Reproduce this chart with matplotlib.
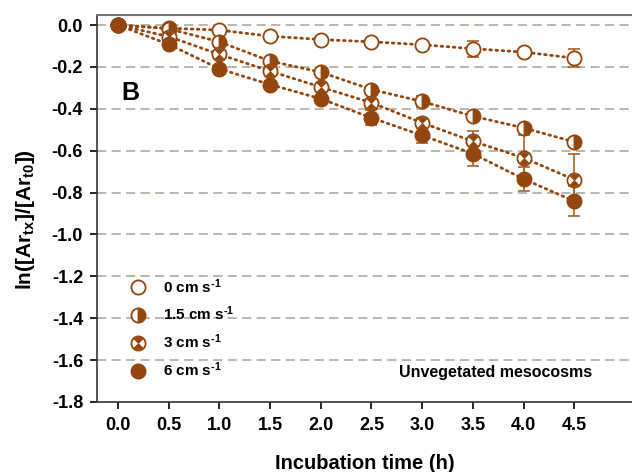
import numpy as np
import matplotlib
matplotlib.use("Agg")
import matplotlib.pyplot as plt
from matplotlib.path import Path
from matplotlib.legend_handler import HandlerTuple

plt.rcParams['font.family'] = ['Liberation Sans', 'DejaVu Sans']
plt.rcParams['font.weight'] = 'bold'
plt.rcParams['mathtext.fontset'] = 'custom'
plt.rcParams['mathtext.bf'] = 'Liberation Sans:bold'
plt.rcParams['mathtext.rm'] = 'Liberation Sans:bold'
plt.rcParams['mathtext.default'] = 'bf'

# ---- data ----
time_h = [0.0, 0.5, 1.0, 1.5, 2.0, 2.5, 3.0, 3.5, 4.0, 4.5]
series_labels = [r"0 cm s$^{\text{-}1}$", r"1.5 cm s$^{\text{-}1}$",
                 r"3 cm s$^{\text{-}1}$", r"6 cm s$^{\text{-}1}$"]
v0 = [0.0, -0.015, -0.024, -0.053, -0.069, -0.080, -0.094, -0.113, -0.129, -0.158]
e0 = [0.0, 0.005, 0.005, 0.005, 0.006, 0.006, 0.008, 0.038, 0.010, 0.044]
v15 = [0.0, -0.018, -0.080, -0.172, -0.225, -0.308, -0.365, -0.435, -0.491, -0.558]
e15 = [0.0, 0.010, 0.012, 0.012, 0.012, 0.015, 0.028, 0.020, 0.015, 0.012]
v3 = [0.0, -0.055, -0.140, -0.220, -0.296, -0.371, -0.467, -0.555, -0.634, -0.738]
e3 = [0.0, 0.010, 0.012, 0.012, 0.015, 0.020, 0.025, 0.050, 0.107, 0.120]
v6 = [0.0, -0.092, -0.209, -0.284, -0.352, -0.443, -0.527, -0.614, -0.735, -0.841]
e6 = [0.0, 0.012, 0.015, 0.015, 0.018, 0.035, 0.035, 0.060, 0.059, 0.072]

yticks = [0.0, -0.2, -0.4, -0.6, -0.8, -1.0, -1.2, -1.4, -1.6, -1.8]
xticks = [0.0, 0.5, 1.0, 1.5, 2.0, 2.5, 3.0, 3.5, 4.0, 4.5]

brown = '#93470e'
ebrown = '#a8622a'

# hourglass marker (top & bottom wedges of a circle)
def wedge(a0, a1, n=20):
    ang = np.radians(np.linspace(a0, a1, n))
    verts = [(0, 0)] + [(np.cos(a), np.sin(a)) for a in ang] + [(0, 0)]
    codes = [Path.MOVETO] + [Path.LINETO] * n + [Path.CLOSEPOLY]
    return verts, codes
v1, c1 = wedge(45, 135)
v2, c2 = wedge(225, 315)
hourglass = Path(v1 + v2, c1 + c2)

fig = plt.figure(figsize=(6.32, 4.72), dpi=100)
ax = fig.add_axes([97/632, 70/472, 1 - 97/632, (402 - 15)/472])

ms = 10.2
line_kw = dict(color=brown, lw=2.0, linestyle=(0, (0.6, 1.6)), dash_capstyle='round')
eb_kw = dict(fmt='none', ecolor=ebrown, elinewidth=1.2, capsize=4, capthick=1.2, zorder=3)

ax.errorbar(time_h, v0, yerr=e0, **eb_kw)
ax.errorbar(time_h, v15, yerr=e15, **eb_kw)
ax.errorbar(time_h, v3, yerr=e3, **eb_kw)
ax.errorbar(time_h, v6, yerr=e6, **eb_kw)

ax.plot(time_h, v0, zorder=2, **line_kw)
ax.plot(time_h, v15, zorder=2, **line_kw)
ax.plot(time_h, v3, zorder=2, **line_kw)
ax.plot(time_h, v6, zorder=2, **line_kw)

mk_open = dict(marker='o', ms=ms, mfc='white', mec=brown, mew=1.3, ls='none')
h0, = ax.plot(time_h, v0, zorder=4, **mk_open)
h15, = ax.plot(time_h, v15, marker='o', ms=ms, fillstyle='right', mfc=brown,
               mfcalt='white', mec=brown, mew=1.3, ls='none', zorder=5)
h3a, = ax.plot(time_h, v3, zorder=6, **mk_open)
h3b, = ax.plot(time_h, v3, marker=hourglass, ms=ms - 1.5, mfc=brown, mec=brown,
               mew=0.5, ls='none', zorder=6)
h6, = ax.plot(time_h, v6, marker='o', ms=ms, mfc=brown, mec=brown, mew=1.3,
              ls='none', zorder=7)

ax.set_xlim(-0.207, 5.07)
ax.set_ylim(-1.8, 0.048)
ax.set_xticks(xticks)
ax.set_xticklabels([f"{t:.1f}" for t in xticks])
ax.set_yticks(yticks)
ax.set_yticklabels([f"{t:.1f}" for t in yticks])
ax.tick_params(axis='both', labelsize=13, direction='out', length=5, width=1.2)
ax.tick_params(axis='x', pad=6)
ax.tick_params(axis='y', pad=5)
for lab in ax.get_xticklabels() + ax.get_yticklabels():
    lab.set_fontweight('bold')

for y in yticks[:-1]:
    ax.axhline(y, color='#aaa395', lw=1.1, ls=(0, (6, 3.5)), zorder=1)

ax.spines['right'].set_visible(False)
for s in ['left', 'bottom', 'top']:
    ax.spines[s].set_linewidth(1.2)
    ax.spines[s].set_color('#333333')
ax.spines['top'].set_color('#777777')
ax.spines['top'].set_linewidth(1.5)

ax.set_xlabel("Incubation time (h)", fontsize=14.5, fontweight='bold', labelpad=14)
ax.set_ylabel(r"ln([Ar$_{tx}$]/[Ar$_{t0}$])", fontsize=15, fontweight='bold')
ax.yaxis.set_label_coords((37 - 97) / 535, 1 - (220 - 15) / 387)

ax.text(0.03, -0.325, "B", fontsize=18, fontweight='bold', ha='left', va='center')
ax.text(4.68, -1.66, "Unvegetated mesocosms", fontsize=11.5, fontweight='bold',
        ha='right', va='center')

handles = [h0, h15, (h3a, h3b), h6]
leg = ax.legend(handles, series_labels, loc='upper left',
                bbox_to_anchor=((123 - 97)/535, 1 - (271 - 15) / 387),
                frameon=False, fontsize=11, handlelength=1.2, handletextpad=1.0,
                labelspacing=0.6, borderaxespad=0,
                handler_map={tuple: HandlerTuple(ndivide=1)})
for t in leg.get_texts():
    t.set_fontweight('bold')

fig.savefig("out.png", dpi=100)
